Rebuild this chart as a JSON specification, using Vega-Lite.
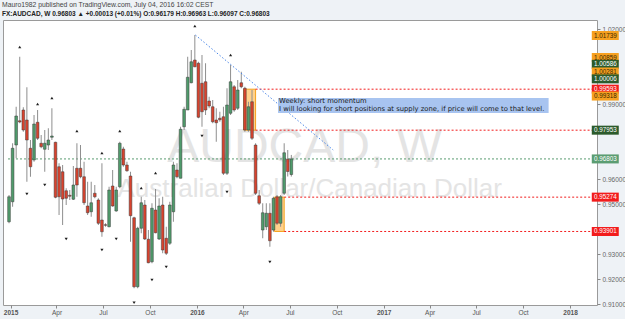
{
  "$schema": "https://vega.github.io/schema/vega-lite/v6.json",
  "width": 594,
  "height": 285,
  "autosize": {"type": "none"},
  "padding": {"left": 3, "top": 20, "right": 28, "bottom": 14},
  "background": "#eef2f6",
  "config": {
    "view": {"fill": "white", "stroke": "#9a9a9a", "strokeWidth": 1},
    "axis": {"grid": false}
  },
  "title": {
    "text": "Mauro1982 published on TradingView.com, July 04, 2016 16:02 CEST",
    "subtitle": "FX:AUDCAD, W  0.96803 ▲ +0.00013 (+0.01%)  O:0.96179  H:0.96963  L:0.96097  C:0.96803",
    "anchor": "start",
    "frame": "group",
    "offset": 3,
    "dx": -1,
    "font": "Liberation Sans",
    "fontSize": 6.8,
    "fontWeight": "normal",
    "color": "#444444",
    "subtitleFont": "Liberation Sans",
    "subtitleFontSize": 6.5,
    "subtitleFontWeight": "bold",
    "subtitleColor": "#222222",
    "subtitlePadding": 1.5
  },
  "datasets": {
    "candles": [
      {"d": "2014-12-29", "o": 0.9429, "h": 0.9536, "l": 0.9423, "c": 0.9529},
      {"d": "2015-01-05", "o": 0.9509, "h": 0.9743, "l": 0.9489, "c": 0.9723},
      {"d": "2015-01-12", "o": 0.9736, "h": 0.9889, "l": 0.9683, "c": 0.9852},
      {"d": "2015-01-19", "o": 0.9833, "h": 1.0089, "l": 0.9823, "c": 0.9828},
      {"d": "2015-01-26", "o": 0.9876, "h": 0.9887, "l": 0.9789, "c": 0.9796},
      {"d": "2015-02-02", "o": 0.9836, "h": 0.9967, "l": 0.9589, "c": 0.9756},
      {"d": "2015-02-09", "o": 0.9723, "h": 0.9756, "l": 0.9609, "c": 0.9649},
      {"d": "2015-02-16", "o": 0.9676, "h": 0.9856, "l": 0.9669, "c": 0.9820},
      {"d": "2015-02-23", "o": 0.9827, "h": 0.9876, "l": 0.9756, "c": 0.9763},
      {"d": "2015-03-02", "o": 0.9743, "h": 0.9776, "l": 0.9723, "c": 0.9729},
      {"d": "2015-03-09", "o": 0.9719, "h": 0.9796, "l": 0.9629, "c": 0.9743},
      {"d": "2015-03-16", "o": 0.9736, "h": 0.9803, "l": 0.9716, "c": 0.9756},
      {"d": "2015-03-23", "o": 0.9767, "h": 0.9883, "l": 0.9756, "c": 0.9772},
      {"d": "2015-03-30", "o": 0.9747, "h": 0.9749, "l": 0.9523, "c": 0.9527},
      {"d": "2015-04-06", "o": 0.9649, "h": 0.9663, "l": 0.9456, "c": 0.9529},
      {"d": "2015-04-13", "o": 0.9629, "h": 0.9656, "l": 0.9416, "c": 0.9520},
      {"d": "2015-04-20", "o": 0.9553, "h": 0.9563, "l": 0.9496, "c": 0.9523},
      {"d": "2015-04-27", "o": 0.9535, "h": 0.9556, "l": 0.9516, "c": 0.9531},
      {"d": "2015-05-04", "o": 0.9519, "h": 0.9652, "l": 0.9516, "c": 0.9576},
      {"d": "2015-05-11", "o": 0.9643, "h": 0.9743, "l": 0.9529, "c": 0.9576},
      {"d": "2015-05-18", "o": 0.9643, "h": 0.9736, "l": 0.9603, "c": 0.9609},
      {"d": "2015-05-25", "o": 0.9609, "h": 0.9669, "l": 0.9496, "c": 0.9505},
      {"d": "2015-06-01", "o": 0.9492, "h": 0.9589, "l": 0.9456, "c": 0.9465},
      {"d": "2015-06-08", "o": 0.9469, "h": 0.9589, "l": 0.9449, "c": 0.9505},
      {"d": "2015-06-15", "o": 0.9543, "h": 0.9576, "l": 0.9523, "c": 0.9529},
      {"d": "2015-06-22", "o": 0.9516, "h": 0.9523, "l": 0.9416, "c": 0.9423},
      {"d": "2015-06-29", "o": 0.9436, "h": 0.9663, "l": 0.9369, "c": 0.9389},
      {"d": "2015-07-06", "o": 0.9417, "h": 0.9423, "l": 0.9409, "c": 0.9415},
      {"d": "2015-07-13", "o": 0.9409, "h": 0.9569, "l": 0.9407, "c": 0.9556},
      {"d": "2015-07-20", "o": 0.9572, "h": 0.9636, "l": 0.9489, "c": 0.9492},
      {"d": "2015-07-27", "o": 0.9472, "h": 0.9569, "l": 0.9469, "c": 0.9556},
      {"d": "2015-08-03", "o": 0.9569, "h": 0.9749, "l": 0.9563, "c": 0.9743},
      {"d": "2015-08-10", "o": 0.9720, "h": 0.9729, "l": 0.9649, "c": 0.9656},
      {"d": "2015-08-17", "o": 0.9656, "h": 0.9669, "l": 0.9629, "c": 0.9633},
      {"d": "2015-08-24", "o": 0.9612, "h": 0.9629, "l": 0.9349, "c": 0.9453},
      {"d": "2015-08-31", "o": 0.9445, "h": 0.9449, "l": 0.9163, "c": 0.9169},
      {"d": "2015-09-07", "o": 0.9169, "h": 0.9409, "l": 0.9163, "c": 0.9403},
      {"d": "2015-09-14", "o": 0.9403, "h": 0.9529, "l": 0.9383, "c": 0.9505},
      {"d": "2015-09-21", "o": 0.9496, "h": 0.9516, "l": 0.9356, "c": 0.9360},
      {"d": "2015-09-28", "o": 0.9359, "h": 0.9396, "l": 0.9263, "c": 0.9265},
      {"d": "2015-10-05", "o": 0.9269, "h": 0.9503, "l": 0.9263, "c": 0.9483},
      {"d": "2015-10-12", "o": 0.9476, "h": 0.9560, "l": 0.9383, "c": 0.9385},
      {"d": "2015-10-19", "o": 0.9360, "h": 0.9523, "l": 0.9356, "c": 0.9492},
      {"d": "2015-10-26", "o": 0.9496, "h": 0.9529, "l": 0.9303, "c": 0.9316},
      {"d": "2015-11-02", "o": 0.9363, "h": 0.9409, "l": 0.9296, "c": 0.9303},
      {"d": "2015-11-09", "o": 0.9343, "h": 0.9509, "l": 0.9336, "c": 0.9496},
      {"d": "2015-11-16", "o": 0.9469, "h": 0.9669, "l": 0.9429, "c": 0.9656},
      {"d": "2015-11-23", "o": 0.9636, "h": 0.9663, "l": 0.9603, "c": 0.9609},
      {"d": "2015-11-30", "o": 0.9603, "h": 0.9809, "l": 0.9603, "c": 0.9799},
      {"d": "2015-12-07", "o": 0.9809, "h": 0.9889, "l": 0.9796, "c": 0.9879},
      {"d": "2015-12-14", "o": 0.9876, "h": 1.0089, "l": 0.9876, "c": 1.0007},
      {"d": "2015-12-21", "o": 0.9985, "h": 1.0116, "l": 0.9983, "c": 1.0069},
      {"d": "2015-12-28", "o": 1.0076, "h": 1.0176, "l": 1.0047, "c": 1.0049},
      {"d": "2016-01-04", "o": 1.0063, "h": 1.0069, "l": 0.9843, "c": 0.9847},
      {"d": "2016-01-11", "o": 0.9983, "h": 1.0096, "l": 0.9809, "c": 0.9869},
      {"d": "2016-01-18", "o": 0.9989, "h": 1.0063, "l": 0.9856, "c": 0.9876},
      {"d": "2016-01-25", "o": 0.9912, "h": 0.9929, "l": 0.9883, "c": 0.9892},
      {"d": "2016-02-01", "o": 0.9889, "h": 0.9916, "l": 0.9823, "c": 0.9829},
      {"d": "2016-02-08", "o": 0.9836, "h": 0.9883, "l": 0.9749, "c": 0.9825},
      {"d": "2016-02-15", "o": 0.9843, "h": 0.9869, "l": 0.9829, "c": 0.9837},
      {"d": "2016-02-22", "o": 0.9849, "h": 0.9889, "l": 0.9616, "c": 0.9623},
      {"d": "2016-02-29", "o": 0.9623, "h": 0.9963, "l": 0.9616, "c": 0.9896},
      {"d": "2016-03-07", "o": 0.9863, "h": 1.0056, "l": 0.9856, "c": 0.9989},
      {"d": "2016-03-14", "o": 0.9969, "h": 0.9976, "l": 0.9869, "c": 0.9876},
      {"d": "2016-03-21", "o": 0.9883, "h": 0.9996, "l": 0.9876, "c": 0.9956},
      {"d": "2016-03-28", "o": 0.9985, "h": 1.0029, "l": 0.9963, "c": 0.9969},
      {"d": "2016-04-04", "o": 0.9963, "h": 0.9969, "l": 0.9789, "c": 0.9796},
      {"d": "2016-04-11", "o": 0.9796, "h": 0.9909, "l": 0.9789, "c": 0.9889},
      {"d": "2016-04-18", "o": 0.9909, "h": 0.9956, "l": 0.9756, "c": 0.9763},
      {"d": "2016-04-25", "o": 0.9736, "h": 0.9743, "l": 0.9536, "c": 0.9543},
      {"d": "2016-05-02", "o": 0.9533, "h": 0.9556, "l": 0.9496, "c": 0.9503},
      {"d": "2016-05-09", "o": 0.9396, "h": 0.9503, "l": 0.9363, "c": 0.9465},
      {"d": "2016-05-16", "o": 0.9409, "h": 0.9503, "l": 0.9396, "c": 0.9463},
      {"d": "2016-05-23", "o": 0.9463, "h": 0.9503, "l": 0.9329, "c": 0.9353},
      {"d": "2016-05-30", "o": 0.9396, "h": 0.9529, "l": 0.9389, "c": 0.9523},
      {"d": "2016-06-06", "o": 0.9529, "h": 0.9536, "l": 0.9416, "c": 0.9423},
      {"d": "2016-06-13", "o": 0.9423, "h": 0.9536, "l": 0.9409, "c": 0.9529},
      {"d": "2016-06-20", "o": 0.9543, "h": 0.9743, "l": 0.9536, "c": 0.9705},
      {"d": "2016-06-27", "o": 0.9679, "h": 0.9716, "l": 0.9610, "c": 0.9630},
      {"d": "2016-07-04", "o": 0.96179, "h": 0.96963, "l": 0.96097, "c": 0.96803}
    ],
    "markers": [
      {"d": "2015-01-19", "p": 1.0128, "dir": "up"},
      {"d": "2015-02-23", "p": 0.9900, "dir": "up"},
      {"d": "2015-03-23", "p": 0.9924, "dir": "up"},
      {"d": "2015-05-11", "p": 0.9792, "dir": "up"},
      {"d": "2015-06-29", "p": 0.9704, "dir": "up"},
      {"d": "2015-08-03", "p": 0.9792, "dir": "up"},
      {"d": "2015-09-14", "p": 0.9564, "dir": "up"},
      {"d": "2015-10-12", "p": 0.9624, "dir": "up"},
      {"d": "2015-12-28", "p": 1.0212, "dir": "up"},
      {"d": "2016-03-07", "p": 1.0096, "dir": "up"},
      {"d": "2015-02-02", "p": 0.9540, "dir": "down"},
      {"d": "2015-03-09", "p": 0.9576, "dir": "down"},
      {"d": "2015-04-20", "p": 0.9360, "dir": "down"},
      {"d": "2015-06-29", "p": 0.9316, "dir": "down"},
      {"d": "2015-07-27", "p": 0.9360, "dir": "down"},
      {"d": "2015-08-31", "p": 0.9105, "dir": "down"},
      {"d": "2015-10-05", "p": 0.9196, "dir": "down"},
      {"d": "2015-11-02", "p": 0.9248, "dir": "down"},
      {"d": "2016-01-11", "p": 0.9772, "dir": "down"},
      {"d": "2016-02-29", "p": 0.9548, "dir": "down"},
      {"d": "2016-05-23", "p": 0.9268, "dir": "down"}
    ],
    "zones": [
      {"d": "2016-04-02", "d2": "2016-04-25", "p": 0.99593, "p2": 0.97953},
      {"d": "2016-06-01", "d2": "2016-06-20", "p": 0.95274, "p2": 0.93901}
    ],
    "hlines": [
      {"d": "2016-04-25", "d2": "2018-02-13", "p": 0.99593, "kind": "zone"},
      {"d": "2016-04-25", "d2": "2018-02-13", "p": 0.97953, "kind": "zone"},
      {"d": "2016-06-20", "d2": "2018-02-13", "p": 0.95274, "kind": "zone"},
      {"d": "2016-06-20", "d2": "2018-02-13", "p": 0.93901, "kind": "zone"},
      {"d": "2014-12-27", "d2": "2018-02-13", "p": 0.96803, "kind": "last"}
    ],
    "trend": [
      {"d": "2015-12-29", "d2": "2016-09-24", "p": 1.0176, "p2": 0.9716}
    ],
    "notebox": [
      {"d": "2016-06-08", "d2": "2017-11-20", "p": 0.9924, "p2": 0.9864}
    ],
    "notetext": [
      {"d": "2016-06-10", "p": 0.99225, "t": "Weekly: short momentum\nI will looking for short positions at supply zone, if price will come to that level."}
    ],
    "badges": [
      {"p": 1.01739, "kind": "drawing"},
      {"p": 1.00859, "kind": "drawing"},
      {"p": 1.00586, "kind": "level"},
      {"p": 1.00281, "kind": "drawing"},
      {"p": 1.00006, "kind": "level"},
      {"p": 0.99593, "kind": "zone"},
      {"p": 0.99318, "kind": "drawing"},
      {"p": 0.97953, "kind": "level"},
      {"p": 0.96803, "kind": "last"},
      {"p": 0.95274, "kind": "zone"},
      {"p": 0.93901, "kind": "zone"}
    ]
  },
  "layer": [
    {
      "data": {"values": [{}]},
      "mark": {"type": "text", "font": "Liberation Sans", "fontSize": 48, "color": "#e4e4e4", "align": "center", "baseline": "middle"},
      "encoding": {
        "x": {"datum": {"year": 2016, "month": 7, "date": 30, "utc": true}, "type": "temporal", "scale": {"type": "utc", "domain": [{"year": 2014, "month": 12, "date": 27, "utc": true}, {"year": 2018, "month": 2, "date": 13, "utc": true}]}, "axis": {"title": null, "values": [{"year": 2015, "month": 1, "date": 1, "utc": true}, {"year": 2015, "month": 4, "date": 1, "utc": true}, {"year": 2015, "month": 7, "date": 1, "utc": true}, {"year": 2015, "month": 10, "date": 1, "utc": true}, {"year": 2016, "month": 1, "date": 1, "utc": true}, {"year": 2016, "month": 4, "date": 1, "utc": true}, {"year": 2016, "month": 7, "date": 1, "utc": true}, {"year": 2016, "month": 10, "date": 1, "utc": true}, {"year": 2017, "month": 1, "date": 1, "utc": true}, {"year": 2017, "month": 4, "date": 1, "utc": true}, {"year": 2017, "month": 7, "date": 1, "utc": true}, {"year": 2017, "month": 10, "date": 1, "utc": true}, {"year": 2018, "month": 1, "date": 1, "utc": true}], "labelExpr": "utcFormat(datum.value, '%m') == '01' ? utcFormat(datum.value, '%Y') : utcFormat(datum.value, '%b')", "labelFontWeight": {"condition": {"test": "utcFormat(datum.value, '%m') == '01'", "value": "bold"}, "value": "normal"}, "grid": false, "domain": false, "tickSize": 3, "tickColor": "#888888", "labelColor": "#555555", "labelFont": "Liberation Sans", "labelFontSize": 6.5, "labelPadding": 1, "labelOverlap": false, "labelBound": false}},
        "y": {"datum": 0.9724, "type": "quantitative", "scale": {"domain": [0.9096, 1.0236], "nice": false, "zero": false}, "axis": {"orient": "right", "title": null, "values": [0.91, 0.92, 0.93, 0.95, 0.96, 0.99, 1.02], "format": ".5f", "grid": false, "domain": false, "tickSize": 3, "tickColor": "#888888", "labelColor": "#666666", "labelFont": "Liberation Sans", "labelFontSize": 6.5, "labelPadding": 2}},
        "text": {"value": "AUDCAD, W"}
      }
    },
    {
      "data": {"values": [{}]},
      "mark": {"type": "text", "font": "Liberation Sans", "fontSize": 26, "color": "#e4e4e4", "align": "center", "baseline": "middle"},
      "encoding": {
        "x": {"datum": {"year": 2016, "month": 8, "date": 9, "utc": true}, "type": "temporal", "scale": {"type": "utc", "domain": [{"year": 2014, "month": 12, "date": 27, "utc": true}, {"year": 2018, "month": 2, "date": 13, "utc": true}]}, "axis": {"title": null, "values": [{"year": 2015, "month": 1, "date": 1, "utc": true}, {"year": 2015, "month": 4, "date": 1, "utc": true}, {"year": 2015, "month": 7, "date": 1, "utc": true}, {"year": 2015, "month": 10, "date": 1, "utc": true}, {"year": 2016, "month": 1, "date": 1, "utc": true}, {"year": 2016, "month": 4, "date": 1, "utc": true}, {"year": 2016, "month": 7, "date": 1, "utc": true}, {"year": 2016, "month": 10, "date": 1, "utc": true}, {"year": 2017, "month": 1, "date": 1, "utc": true}, {"year": 2017, "month": 4, "date": 1, "utc": true}, {"year": 2017, "month": 7, "date": 1, "utc": true}, {"year": 2017, "month": 10, "date": 1, "utc": true}, {"year": 2018, "month": 1, "date": 1, "utc": true}], "labelExpr": "utcFormat(datum.value, '%m') == '01' ? utcFormat(datum.value, '%Y') : utcFormat(datum.value, '%b')", "labelFontWeight": {"condition": {"test": "utcFormat(datum.value, '%m') == '01'", "value": "bold"}, "value": "normal"}, "grid": false, "domain": false, "tickSize": 3, "tickColor": "#888888", "labelColor": "#555555", "labelFont": "Liberation Sans", "labelFontSize": 6.5, "labelPadding": 1, "labelOverlap": false, "labelBound": false}},
        "y": {"datum": 0.956, "type": "quantitative", "scale": {"domain": [0.9096, 1.0236], "nice": false, "zero": false}, "axis": {"orient": "right", "title": null, "values": [0.91, 0.92, 0.93, 0.95, 0.96, 0.99, 1.02], "format": ".5f", "grid": false, "domain": false, "tickSize": 3, "tickColor": "#888888", "labelColor": "#666666", "labelFont": "Liberation Sans", "labelFontSize": 6.5, "labelPadding": 2}},
        "text": {"value": "Australian Dollar/Canadian Dollar"}
      }
    },
    {
      "data": {"name": "zones"},
      "mark": {"type": "rect", "fill": "#ffc266", "fillOpacity": 0.75, "stroke": "#f5a21e", "strokeWidth": 1},
      "encoding": {
        "x": {"field": "d", "type": "temporal", "scale": {"type": "utc", "domain": [{"year": 2014, "month": 12, "date": 27, "utc": true}, {"year": 2018, "month": 2, "date": 13, "utc": true}]}, "axis": {"title": null, "values": [{"year": 2015, "month": 1, "date": 1, "utc": true}, {"year": 2015, "month": 4, "date": 1, "utc": true}, {"year": 2015, "month": 7, "date": 1, "utc": true}, {"year": 2015, "month": 10, "date": 1, "utc": true}, {"year": 2016, "month": 1, "date": 1, "utc": true}, {"year": 2016, "month": 4, "date": 1, "utc": true}, {"year": 2016, "month": 7, "date": 1, "utc": true}, {"year": 2016, "month": 10, "date": 1, "utc": true}, {"year": 2017, "month": 1, "date": 1, "utc": true}, {"year": 2017, "month": 4, "date": 1, "utc": true}, {"year": 2017, "month": 7, "date": 1, "utc": true}, {"year": 2017, "month": 10, "date": 1, "utc": true}, {"year": 2018, "month": 1, "date": 1, "utc": true}], "labelExpr": "utcFormat(datum.value, '%m') == '01' ? utcFormat(datum.value, '%Y') : utcFormat(datum.value, '%b')", "labelFontWeight": {"condition": {"test": "utcFormat(datum.value, '%m') == '01'", "value": "bold"}, "value": "normal"}, "grid": false, "domain": false, "tickSize": 3, "tickColor": "#888888", "labelColor": "#555555", "labelFont": "Liberation Sans", "labelFontSize": 6.5, "labelPadding": 1, "labelOverlap": false, "labelBound": false}},
        "x2": {"field": "d2"},
        "y": {"field": "p", "type": "quantitative", "scale": {"domain": [0.9096, 1.0236], "nice": false, "zero": false}, "axis": {"orient": "right", "title": null, "values": [0.91, 0.92, 0.93, 0.95, 0.96, 0.99, 1.02], "format": ".5f", "grid": false, "domain": false, "tickSize": 3, "tickColor": "#888888", "labelColor": "#666666", "labelFont": "Liberation Sans", "labelFontSize": 6.5, "labelPadding": 2}},
        "y2": {"field": "p2"}
      }
    },
    {
      "data": {"name": "hlines"},
      "mark": {"type": "rule", "strokeWidth": 1, "strokeDash": [2, 2]},
      "encoding": {
        "x": {"field": "d", "type": "temporal", "scale": {"type": "utc", "domain": [{"year": 2014, "month": 12, "date": 27, "utc": true}, {"year": 2018, "month": 2, "date": 13, "utc": true}]}, "axis": {"title": null, "values": [{"year": 2015, "month": 1, "date": 1, "utc": true}, {"year": 2015, "month": 4, "date": 1, "utc": true}, {"year": 2015, "month": 7, "date": 1, "utc": true}, {"year": 2015, "month": 10, "date": 1, "utc": true}, {"year": 2016, "month": 1, "date": 1, "utc": true}, {"year": 2016, "month": 4, "date": 1, "utc": true}, {"year": 2016, "month": 7, "date": 1, "utc": true}, {"year": 2016, "month": 10, "date": 1, "utc": true}, {"year": 2017, "month": 1, "date": 1, "utc": true}, {"year": 2017, "month": 4, "date": 1, "utc": true}, {"year": 2017, "month": 7, "date": 1, "utc": true}, {"year": 2017, "month": 10, "date": 1, "utc": true}, {"year": 2018, "month": 1, "date": 1, "utc": true}], "labelExpr": "utcFormat(datum.value, '%m') == '01' ? utcFormat(datum.value, '%Y') : utcFormat(datum.value, '%b')", "labelFontWeight": {"condition": {"test": "utcFormat(datum.value, '%m') == '01'", "value": "bold"}, "value": "normal"}, "grid": false, "domain": false, "tickSize": 3, "tickColor": "#888888", "labelColor": "#555555", "labelFont": "Liberation Sans", "labelFontSize": 6.5, "labelPadding": 1, "labelOverlap": false, "labelBound": false}},
        "x2": {"field": "d2"},
        "y": {"field": "p", "type": "quantitative", "scale": {"domain": [0.9096, 1.0236], "nice": false, "zero": false}, "axis": {"orient": "right", "title": null, "values": [0.91, 0.92, 0.93, 0.95, 0.96, 0.99, 1.02], "format": ".5f", "grid": false, "domain": false, "tickSize": 3, "tickColor": "#888888", "labelColor": "#666666", "labelFont": "Liberation Sans", "labelFontSize": 6.5, "labelPadding": 2}},
        "color": {"field": "kind", "type": "nominal", "scale": {"domain": ["drawing", "level", "zone", "last"], "range": ["#f6a020", "#2c5b2c", "#f21c1c", "#5b9d72"]}, "legend": null}
      }
    },
    {
      "data": {"name": "candles"},
      "mark": {"type": "rule", "strokeWidth": 1, "color": "#8e8e8e"},
      "encoding": {
        "x": {"field": "d", "type": "temporal", "scale": {"type": "utc", "domain": [{"year": 2014, "month": 12, "date": 27, "utc": true}, {"year": 2018, "month": 2, "date": 13, "utc": true}]}, "axis": {"title": null, "values": [{"year": 2015, "month": 1, "date": 1, "utc": true}, {"year": 2015, "month": 4, "date": 1, "utc": true}, {"year": 2015, "month": 7, "date": 1, "utc": true}, {"year": 2015, "month": 10, "date": 1, "utc": true}, {"year": 2016, "month": 1, "date": 1, "utc": true}, {"year": 2016, "month": 4, "date": 1, "utc": true}, {"year": 2016, "month": 7, "date": 1, "utc": true}, {"year": 2016, "month": 10, "date": 1, "utc": true}, {"year": 2017, "month": 1, "date": 1, "utc": true}, {"year": 2017, "month": 4, "date": 1, "utc": true}, {"year": 2017, "month": 7, "date": 1, "utc": true}, {"year": 2017, "month": 10, "date": 1, "utc": true}, {"year": 2018, "month": 1, "date": 1, "utc": true}], "labelExpr": "utcFormat(datum.value, '%m') == '01' ? utcFormat(datum.value, '%Y') : utcFormat(datum.value, '%b')", "labelFontWeight": {"condition": {"test": "utcFormat(datum.value, '%m') == '01'", "value": "bold"}, "value": "normal"}, "grid": false, "domain": false, "tickSize": 3, "tickColor": "#888888", "labelColor": "#555555", "labelFont": "Liberation Sans", "labelFontSize": 6.5, "labelPadding": 1, "labelOverlap": false, "labelBound": false}},
        "y": {"field": "l", "type": "quantitative", "scale": {"domain": [0.9096, 1.0236], "nice": false, "zero": false}, "axis": {"orient": "right", "title": null, "values": [0.91, 0.92, 0.93, 0.95, 0.96, 0.99, 1.02], "format": ".5f", "grid": false, "domain": false, "tickSize": 3, "tickColor": "#888888", "labelColor": "#666666", "labelFont": "Liberation Sans", "labelFontSize": 6.5, "labelPadding": 2}},
        "y2": {"field": "h"}
      }
    },
    {
      "data": {"name": "candles"},
      "mark": {"type": "bar", "width": 2.7, "stroke": "#3a3a3a", "strokeWidth": 0.5},
      "encoding": {
        "x": {"field": "d", "type": "temporal", "scale": {"type": "utc", "domain": [{"year": 2014, "month": 12, "date": 27, "utc": true}, {"year": 2018, "month": 2, "date": 13, "utc": true}]}, "axis": {"title": null, "values": [{"year": 2015, "month": 1, "date": 1, "utc": true}, {"year": 2015, "month": 4, "date": 1, "utc": true}, {"year": 2015, "month": 7, "date": 1, "utc": true}, {"year": 2015, "month": 10, "date": 1, "utc": true}, {"year": 2016, "month": 1, "date": 1, "utc": true}, {"year": 2016, "month": 4, "date": 1, "utc": true}, {"year": 2016, "month": 7, "date": 1, "utc": true}, {"year": 2016, "month": 10, "date": 1, "utc": true}, {"year": 2017, "month": 1, "date": 1, "utc": true}, {"year": 2017, "month": 4, "date": 1, "utc": true}, {"year": 2017, "month": 7, "date": 1, "utc": true}, {"year": 2017, "month": 10, "date": 1, "utc": true}, {"year": 2018, "month": 1, "date": 1, "utc": true}], "labelExpr": "utcFormat(datum.value, '%m') == '01' ? utcFormat(datum.value, '%Y') : utcFormat(datum.value, '%b')", "labelFontWeight": {"condition": {"test": "utcFormat(datum.value, '%m') == '01'", "value": "bold"}, "value": "normal"}, "grid": false, "domain": false, "tickSize": 3, "tickColor": "#888888", "labelColor": "#555555", "labelFont": "Liberation Sans", "labelFontSize": 6.5, "labelPadding": 1, "labelOverlap": false, "labelBound": false}},
        "y": {"field": "o", "type": "quantitative", "scale": {"domain": [0.9096, 1.0236], "nice": false, "zero": false}, "axis": {"orient": "right", "title": null, "values": [0.91, 0.92, 0.93, 0.95, 0.96, 0.99, 1.02], "format": ".5f", "grid": false, "domain": false, "tickSize": 3, "tickColor": "#888888", "labelColor": "#666666", "labelFont": "Liberation Sans", "labelFontSize": 6.5, "labelPadding": 2}},
        "y2": {"field": "c"},
        "fill": {"condition": {"test": "datum.c >= datum.o", "value": "#4f9b6b"}, "value": "#d8432e"}
      }
    },
    {
      "data": {"name": "markers"},
      "mark": {"type": "point", "filled": true, "size": 10, "color": "#1e1e1e", "opacity": 1},
      "encoding": {
        "x": {"field": "d", "type": "temporal", "scale": {"type": "utc", "domain": [{"year": 2014, "month": 12, "date": 27, "utc": true}, {"year": 2018, "month": 2, "date": 13, "utc": true}]}, "axis": {"title": null, "values": [{"year": 2015, "month": 1, "date": 1, "utc": true}, {"year": 2015, "month": 4, "date": 1, "utc": true}, {"year": 2015, "month": 7, "date": 1, "utc": true}, {"year": 2015, "month": 10, "date": 1, "utc": true}, {"year": 2016, "month": 1, "date": 1, "utc": true}, {"year": 2016, "month": 4, "date": 1, "utc": true}, {"year": 2016, "month": 7, "date": 1, "utc": true}, {"year": 2016, "month": 10, "date": 1, "utc": true}, {"year": 2017, "month": 1, "date": 1, "utc": true}, {"year": 2017, "month": 4, "date": 1, "utc": true}, {"year": 2017, "month": 7, "date": 1, "utc": true}, {"year": 2017, "month": 10, "date": 1, "utc": true}, {"year": 2018, "month": 1, "date": 1, "utc": true}], "labelExpr": "utcFormat(datum.value, '%m') == '01' ? utcFormat(datum.value, '%Y') : utcFormat(datum.value, '%b')", "labelFontWeight": {"condition": {"test": "utcFormat(datum.value, '%m') == '01'", "value": "bold"}, "value": "normal"}, "grid": false, "domain": false, "tickSize": 3, "tickColor": "#888888", "labelColor": "#555555", "labelFont": "Liberation Sans", "labelFontSize": 6.5, "labelPadding": 1, "labelOverlap": false, "labelBound": false}},
        "y": {"field": "p", "type": "quantitative", "scale": {"domain": [0.9096, 1.0236], "nice": false, "zero": false}, "axis": {"orient": "right", "title": null, "values": [0.91, 0.92, 0.93, 0.95, 0.96, 0.99, 1.02], "format": ".5f", "grid": false, "domain": false, "tickSize": 3, "tickColor": "#888888", "labelColor": "#666666", "labelFont": "Liberation Sans", "labelFontSize": 6.5, "labelPadding": 2}},
        "shape": {"field": "dir", "type": "nominal", "scale": {"domain": ["up", "down"], "range": ["triangle-up", "triangle-down"]}, "legend": null}
      }
    },
    {
      "data": {"name": "trend"},
      "mark": {"type": "rule", "strokeWidth": 1, "color": "#4a86e8", "strokeDash": [1.5, 2]},
      "encoding": {
        "x": {"field": "d", "type": "temporal", "scale": {"type": "utc", "domain": [{"year": 2014, "month": 12, "date": 27, "utc": true}, {"year": 2018, "month": 2, "date": 13, "utc": true}]}, "axis": {"title": null, "values": [{"year": 2015, "month": 1, "date": 1, "utc": true}, {"year": 2015, "month": 4, "date": 1, "utc": true}, {"year": 2015, "month": 7, "date": 1, "utc": true}, {"year": 2015, "month": 10, "date": 1, "utc": true}, {"year": 2016, "month": 1, "date": 1, "utc": true}, {"year": 2016, "month": 4, "date": 1, "utc": true}, {"year": 2016, "month": 7, "date": 1, "utc": true}, {"year": 2016, "month": 10, "date": 1, "utc": true}, {"year": 2017, "month": 1, "date": 1, "utc": true}, {"year": 2017, "month": 4, "date": 1, "utc": true}, {"year": 2017, "month": 7, "date": 1, "utc": true}, {"year": 2017, "month": 10, "date": 1, "utc": true}, {"year": 2018, "month": 1, "date": 1, "utc": true}], "labelExpr": "utcFormat(datum.value, '%m') == '01' ? utcFormat(datum.value, '%Y') : utcFormat(datum.value, '%b')", "labelFontWeight": {"condition": {"test": "utcFormat(datum.value, '%m') == '01'", "value": "bold"}, "value": "normal"}, "grid": false, "domain": false, "tickSize": 3, "tickColor": "#888888", "labelColor": "#555555", "labelFont": "Liberation Sans", "labelFontSize": 6.5, "labelPadding": 1, "labelOverlap": false, "labelBound": false}},
        "x2": {"field": "d2"},
        "y": {"field": "p", "type": "quantitative", "scale": {"domain": [0.9096, 1.0236], "nice": false, "zero": false}, "axis": {"orient": "right", "title": null, "values": [0.91, 0.92, 0.93, 0.95, 0.96, 0.99, 1.02], "format": ".5f", "grid": false, "domain": false, "tickSize": 3, "tickColor": "#888888", "labelColor": "#666666", "labelFont": "Liberation Sans", "labelFontSize": 6.5, "labelPadding": 2}},
        "y2": {"field": "p2"}
      }
    },
    {
      "data": {"name": "notebox"},
      "mark": {"type": "rect", "fill": "#a8c4f0"},
      "encoding": {
        "x": {"field": "d", "type": "temporal", "scale": {"type": "utc", "domain": [{"year": 2014, "month": 12, "date": 27, "utc": true}, {"year": 2018, "month": 2, "date": 13, "utc": true}]}, "axis": {"title": null, "values": [{"year": 2015, "month": 1, "date": 1, "utc": true}, {"year": 2015, "month": 4, "date": 1, "utc": true}, {"year": 2015, "month": 7, "date": 1, "utc": true}, {"year": 2015, "month": 10, "date": 1, "utc": true}, {"year": 2016, "month": 1, "date": 1, "utc": true}, {"year": 2016, "month": 4, "date": 1, "utc": true}, {"year": 2016, "month": 7, "date": 1, "utc": true}, {"year": 2016, "month": 10, "date": 1, "utc": true}, {"year": 2017, "month": 1, "date": 1, "utc": true}, {"year": 2017, "month": 4, "date": 1, "utc": true}, {"year": 2017, "month": 7, "date": 1, "utc": true}, {"year": 2017, "month": 10, "date": 1, "utc": true}, {"year": 2018, "month": 1, "date": 1, "utc": true}], "labelExpr": "utcFormat(datum.value, '%m') == '01' ? utcFormat(datum.value, '%Y') : utcFormat(datum.value, '%b')", "labelFontWeight": {"condition": {"test": "utcFormat(datum.value, '%m') == '01'", "value": "bold"}, "value": "normal"}, "grid": false, "domain": false, "tickSize": 3, "tickColor": "#888888", "labelColor": "#555555", "labelFont": "Liberation Sans", "labelFontSize": 6.5, "labelPadding": 1, "labelOverlap": false, "labelBound": false}},
        "x2": {"field": "d2"},
        "y": {"field": "p", "type": "quantitative", "scale": {"domain": [0.9096, 1.0236], "nice": false, "zero": false}, "axis": {"orient": "right", "title": null, "values": [0.91, 0.92, 0.93, 0.95, 0.96, 0.99, 1.02], "format": ".5f", "grid": false, "domain": false, "tickSize": 3, "tickColor": "#888888", "labelColor": "#666666", "labelFont": "Liberation Sans", "labelFontSize": 6.5, "labelPadding": 2}},
        "y2": {"field": "p2"}
      }
    },
    {
      "data": {"name": "notetext"},
      "mark": {"type": "text", "font": "DejaVu Sans", "fontSize": 6.8, "lineHeight": 7.3, "lineBreak": "\n", "align": "left", "baseline": "top", "color": "#1a1a1a"},
      "encoding": {
        "x": {"field": "d", "type": "temporal", "scale": {"type": "utc", "domain": [{"year": 2014, "month": 12, "date": 27, "utc": true}, {"year": 2018, "month": 2, "date": 13, "utc": true}]}, "axis": {"title": null, "values": [{"year": 2015, "month": 1, "date": 1, "utc": true}, {"year": 2015, "month": 4, "date": 1, "utc": true}, {"year": 2015, "month": 7, "date": 1, "utc": true}, {"year": 2015, "month": 10, "date": 1, "utc": true}, {"year": 2016, "month": 1, "date": 1, "utc": true}, {"year": 2016, "month": 4, "date": 1, "utc": true}, {"year": 2016, "month": 7, "date": 1, "utc": true}, {"year": 2016, "month": 10, "date": 1, "utc": true}, {"year": 2017, "month": 1, "date": 1, "utc": true}, {"year": 2017, "month": 4, "date": 1, "utc": true}, {"year": 2017, "month": 7, "date": 1, "utc": true}, {"year": 2017, "month": 10, "date": 1, "utc": true}, {"year": 2018, "month": 1, "date": 1, "utc": true}], "labelExpr": "utcFormat(datum.value, '%m') == '01' ? utcFormat(datum.value, '%Y') : utcFormat(datum.value, '%b')", "labelFontWeight": {"condition": {"test": "utcFormat(datum.value, '%m') == '01'", "value": "bold"}, "value": "normal"}, "grid": false, "domain": false, "tickSize": 3, "tickColor": "#888888", "labelColor": "#555555", "labelFont": "Liberation Sans", "labelFontSize": 6.5, "labelPadding": 1, "labelOverlap": false, "labelBound": false}},
        "y": {"field": "p", "type": "quantitative", "scale": {"domain": [0.9096, 1.0236], "nice": false, "zero": false}, "axis": {"orient": "right", "title": null, "values": [0.91, 0.92, 0.93, 0.95, 0.96, 0.99, 1.02], "format": ".5f", "grid": false, "domain": false, "tickSize": 3, "tickColor": "#888888", "labelColor": "#666666", "labelFont": "Liberation Sans", "labelFontSize": 6.5, "labelPadding": 2}},
        "text": {"field": "t"}
      }
    },
    {
      "data": {"name": "badges"},
      "mark": {"type": "tick", "orient": "horizontal", "size": 27, "thickness": 9, "opacity": 1},
      "encoding": {
        "x": {"datum": {"year": 2018, "month": 3, "date": 11, "utc": true}, "type": "temporal", "scale": {"type": "utc", "domain": [{"year": 2014, "month": 12, "date": 27, "utc": true}, {"year": 2018, "month": 2, "date": 13, "utc": true}]}, "axis": {"title": null, "values": [{"year": 2015, "month": 1, "date": 1, "utc": true}, {"year": 2015, "month": 4, "date": 1, "utc": true}, {"year": 2015, "month": 7, "date": 1, "utc": true}, {"year": 2015, "month": 10, "date": 1, "utc": true}, {"year": 2016, "month": 1, "date": 1, "utc": true}, {"year": 2016, "month": 4, "date": 1, "utc": true}, {"year": 2016, "month": 7, "date": 1, "utc": true}, {"year": 2016, "month": 10, "date": 1, "utc": true}, {"year": 2017, "month": 1, "date": 1, "utc": true}, {"year": 2017, "month": 4, "date": 1, "utc": true}, {"year": 2017, "month": 7, "date": 1, "utc": true}, {"year": 2017, "month": 10, "date": 1, "utc": true}, {"year": 2018, "month": 1, "date": 1, "utc": true}], "labelExpr": "utcFormat(datum.value, '%m') == '01' ? utcFormat(datum.value, '%Y') : utcFormat(datum.value, '%b')", "labelFontWeight": {"condition": {"test": "utcFormat(datum.value, '%m') == '01'", "value": "bold"}, "value": "normal"}, "grid": false, "domain": false, "tickSize": 3, "tickColor": "#888888", "labelColor": "#555555", "labelFont": "Liberation Sans", "labelFontSize": 6.5, "labelPadding": 1, "labelOverlap": false, "labelBound": false}},
        "y": {"field": "p", "type": "quantitative", "scale": {"domain": [0.9096, 1.0236], "nice": false, "zero": false}, "axis": {"orient": "right", "title": null, "values": [0.91, 0.92, 0.93, 0.95, 0.96, 0.99, 1.02], "format": ".5f", "grid": false, "domain": false, "tickSize": 3, "tickColor": "#888888", "labelColor": "#666666", "labelFont": "Liberation Sans", "labelFontSize": 6.5, "labelPadding": 2}},
        "color": {"field": "kind", "type": "nominal", "scale": {"domain": ["drawing", "level", "zone", "last"], "range": ["#f6a020", "#2c5b2c", "#f21c1c", "#5b9d72"]}, "legend": null}
      }
    },
    {
      "data": {"name": "badges"},
      "mark": {"type": "text", "font": "Liberation Sans", "fontSize": 6.3, "align": "center", "baseline": "middle"},
      "encoding": {
        "x": {"datum": {"year": 2018, "month": 3, "date": 11, "utc": true}, "type": "temporal", "scale": {"type": "utc", "domain": [{"year": 2014, "month": 12, "date": 27, "utc": true}, {"year": 2018, "month": 2, "date": 13, "utc": true}]}, "axis": {"title": null, "values": [{"year": 2015, "month": 1, "date": 1, "utc": true}, {"year": 2015, "month": 4, "date": 1, "utc": true}, {"year": 2015, "month": 7, "date": 1, "utc": true}, {"year": 2015, "month": 10, "date": 1, "utc": true}, {"year": 2016, "month": 1, "date": 1, "utc": true}, {"year": 2016, "month": 4, "date": 1, "utc": true}, {"year": 2016, "month": 7, "date": 1, "utc": true}, {"year": 2016, "month": 10, "date": 1, "utc": true}, {"year": 2017, "month": 1, "date": 1, "utc": true}, {"year": 2017, "month": 4, "date": 1, "utc": true}, {"year": 2017, "month": 7, "date": 1, "utc": true}, {"year": 2017, "month": 10, "date": 1, "utc": true}, {"year": 2018, "month": 1, "date": 1, "utc": true}], "labelExpr": "utcFormat(datum.value, '%m') == '01' ? utcFormat(datum.value, '%Y') : utcFormat(datum.value, '%b')", "labelFontWeight": {"condition": {"test": "utcFormat(datum.value, '%m') == '01'", "value": "bold"}, "value": "normal"}, "grid": false, "domain": false, "tickSize": 3, "tickColor": "#888888", "labelColor": "#555555", "labelFont": "Liberation Sans", "labelFontSize": 6.5, "labelPadding": 1, "labelOverlap": false, "labelBound": false}},
        "y": {"field": "p", "type": "quantitative", "scale": {"domain": [0.9096, 1.0236], "nice": false, "zero": false}, "axis": {"orient": "right", "title": null, "values": [0.91, 0.92, 0.93, 0.95, 0.96, 0.99, 1.02], "format": ".5f", "grid": false, "domain": false, "tickSize": 3, "tickColor": "#888888", "labelColor": "#666666", "labelFont": "Liberation Sans", "labelFontSize": 6.5, "labelPadding": 2}},
        "text": {"field": "p", "type": "quantitative", "format": ".5f"},
        "color": {"condition": {"test": "datum.kind === 'drawing'", "value": "#3a2a00"}, "value": "#ffffff"}
      }
    }
  ]
}
